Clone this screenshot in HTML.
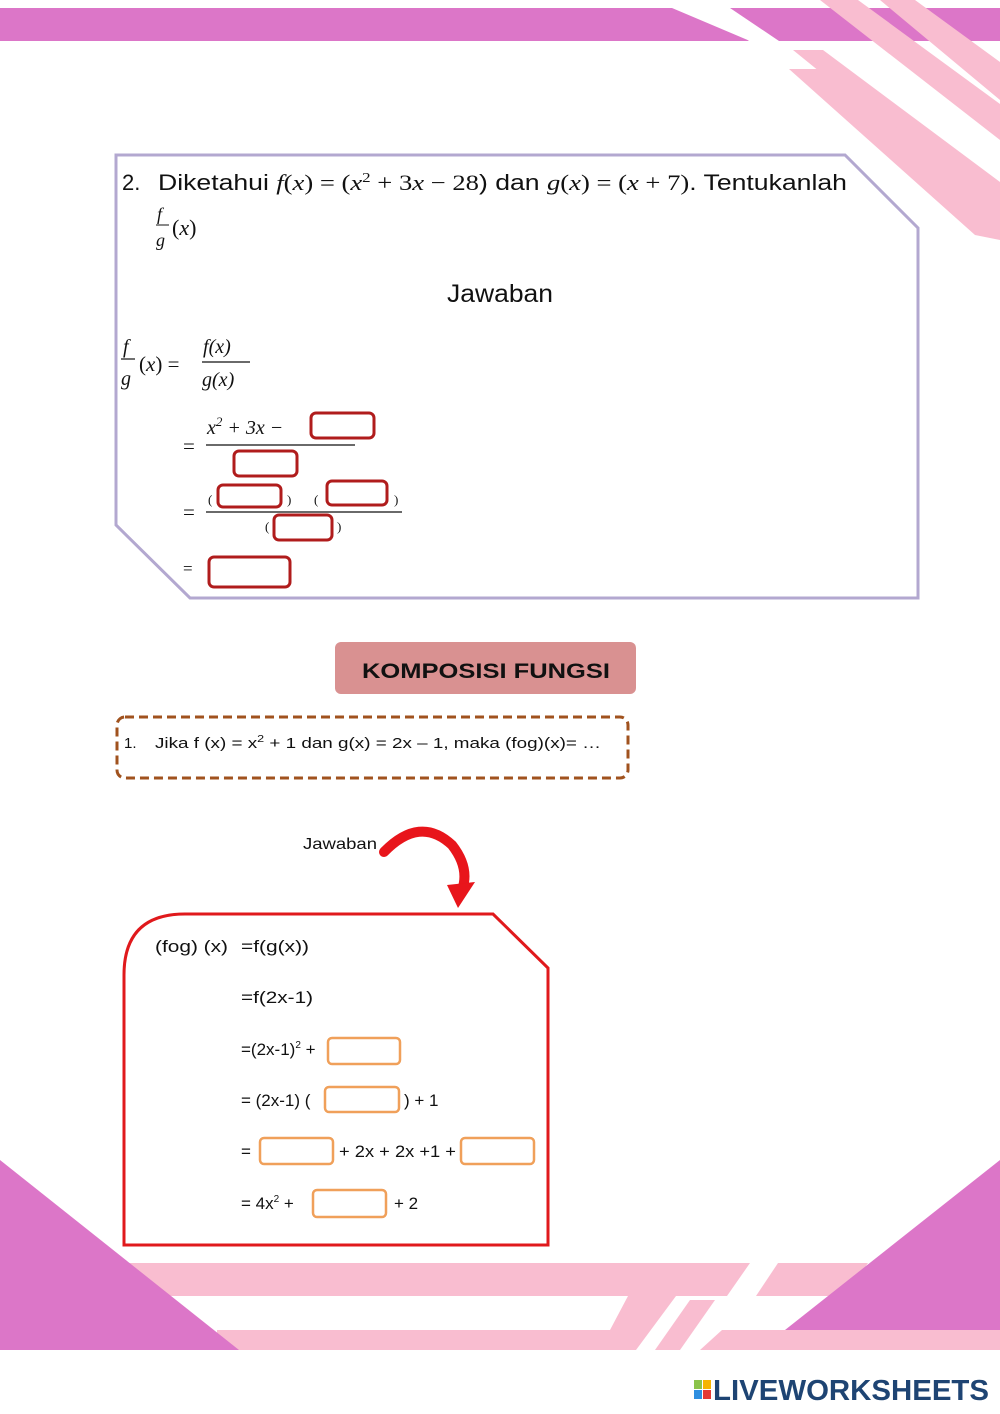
<!DOCTYPE html>
<html><head><meta charset="utf-8"><style>
html,body{margin:0;padding:0;background:#fff;}
svg{display:block;}
text{font-family:"Liberation Sans",sans-serif;fill:#111;}
.m{font-family:"Liberation Serif",serif;font-style:italic;}
.r{font-family:"Liberation Serif",serif;}
</style></head><body>
<svg width="1000" height="1414" viewBox="0 0 1000 1414" xmlns="http://www.w3.org/2000/svg">
<!-- top decoration -->
<polygon points="0,8 672,8 750,41 0,41" fill="#dc76c8"/>
<polygon points="0,8 670,8 700,41 0,41" fill="#dc76c8"/>
<polygon points="698,0 730,0 779,41 749,41" fill="#fff"/>
<polygon points="730,8 1000,8 1000,41 779,41" fill="#dc76c8"/>
<polygon points="820,0 858,0 1000,104 1000,140" fill="#f9bdd0"/>
<polygon points="880,0 915,0 1000,62 1000,100" fill="#f9bdd0"/>
<polygon points="793,50 823,50 1000,182 1000,218" fill="#f9bdd0"/>
<polygon points="789,69 818,69 1000,205 1000,240 975,235" fill="#f9bdd0"/>
<!-- bottom decoration -->
<polygon points="128,1263 750,1263 727,1296 150,1296" fill="#f9bdd0"/>
<polygon points="778,1263 868,1263 845,1296 756,1296" fill="#f9bdd0"/>
<polygon points="217,1330 610,1330 628,1296 676,1296 636,1350 217,1350" fill="#f9bdd0"/>
<polygon points="655,1350 690,1300 715,1300 680,1350" fill="#f9bdd0"/>
<polygon points="700,1350 722,1330 1000,1330 1000,1350" fill="#f9bdd0"/>
<polygon points="0,1160 239,1350 0,1350" fill="#dc76c8"/>
<polygon points="1000,1160 785,1330 1000,1330" fill="#dc76c8"/>
<!-- logo -->
<rect x="694" y="1380" width="8" height="9" fill="#8bc34a"/>
<rect x="703" y="1380" width="8" height="9" fill="#f5b400"/>
<rect x="694" y="1390" width="8" height="9" fill="#2f8fe0"/>
<rect x="703" y="1390" width="8" height="9" fill="#e53935"/>
<text x="713" y="1400" font-size="29" font-weight="bold" style="fill:#1e4473" textLength="276" lengthAdjust="spacingAndGlyphs">LIVEWORKSHEETS</text>

<!-- box 1 -->
<polygon points="116,155 845,155 918,228 918,598 190,598 116,525" fill="none" stroke="#b3a8d0" stroke-width="3"/>
<text x="122" y="190" font-size="22">2.</text>
<text x="158" y="190" font-size="22" textLength="689" lengthAdjust="spacingAndGlyphs">Diketahui <tspan class="m">f</tspan><tspan class="r">(</tspan><tspan class="m">x</tspan><tspan class="r">) = (</tspan><tspan class="m">x</tspan><tspan class="r" font-size="14" dy="-8">2</tspan><tspan class="r" dy="8"> + 3</tspan><tspan class="m">x</tspan><tspan class="r"> − 28</tspan>) dan <tspan class="m">g</tspan><tspan class="r">(</tspan><tspan class="m">x</tspan><tspan class="r">) = (</tspan><tspan class="m">x</tspan><tspan class="r"> + 7)</tspan>. Tentukanlah</text>
<text x="157" y="220" font-size="18" class="m">f</text>
<line x1="156" y1="225" x2="169" y2="225" stroke="#111" stroke-width="1"/>
<text x="156" y="246" font-size="18" class="m">g</text>
<text x="172" y="235" font-size="22" class="r">(<tspan class="m">x</tspan>)</text>
<text x="500" y="302" font-size="25" text-anchor="middle" textLength="106" lengthAdjust="spacingAndGlyphs">Jawaban</text>

<text x="123" y="353" font-size="20" class="m">f</text>
<line x1="121" y1="359" x2="135" y2="359" stroke="#111" stroke-width="1.2"/>
<text x="121" y="385" font-size="20" class="m">g</text>
<text x="139" y="371" font-size="21" class="r">(<tspan class="m">x</tspan>) =</text>
<text x="203" y="353" font-size="20" class="m">f<tspan class="r">(</tspan>x<tspan class="r">)</tspan></text>
<line x1="202" y1="362" x2="250" y2="362" stroke="#111" stroke-width="1.2"/>
<text x="202" y="386" font-size="20" class="m">g<tspan class="r">(</tspan>x<tspan class="r">)</tspan></text>

<text x="183" y="453" font-size="21" class="r">=</text>
<text x="207" y="434" font-size="20" class="m">x<tspan class="r" font-size="13" dy="-8">2</tspan><tspan class="r" dy="8"> + 3</tspan>x<tspan class="r"> −</tspan></text>
<line x1="206" y1="445" x2="355" y2="445" stroke="#111" stroke-width="1.3"/>
<text x="183" y="519" font-size="21" class="r">=</text>
<line x1="206" y1="512" x2="402" y2="512" stroke="#111" stroke-width="1.3"/>
<text x="208" y="504" font-size="13" class="r">(</text>
<text x="287" y="504" font-size="13" class="r">)</text>
<text x="314" y="504" font-size="13" class="r">(</text>
<text x="394" y="504" font-size="13" class="r">)</text>
<text x="265" y="531" font-size="13" class="r">(</text>
<text x="337" y="531" font-size="13" class="r">)</text>
<text x="183" y="574" font-size="17" class="r">=</text>
<g fill="#fff" stroke="#b01c1c" stroke-width="3">
<rect x="311" y="413" width="63" height="25" rx="5"/>
<rect x="234" y="451" width="63" height="25" rx="5"/>
<rect x="218" y="485" width="63" height="22" rx="5"/>
<rect x="327" y="481" width="60" height="24" rx="5"/>
<rect x="274" y="515" width="58" height="25" rx="5"/>
<rect x="209" y="557" width="81" height="30" rx="5"/>
</g>

<!-- heading -->
<rect x="335" y="642" width="301" height="52" rx="6" fill="#d99191"/>
<text x="486" y="678" font-size="21" font-weight="bold" text-anchor="middle" textLength="248" lengthAdjust="spacingAndGlyphs">KOMPOSISI FUNGSI</text>

<rect x="117" y="717" width="511" height="61" rx="8" fill="none" stroke="#a0521e" stroke-width="3" stroke-dasharray="9,5"/>
<text x="124" y="748" font-size="15">1.</text>
<text x="155" y="748" font-size="15" textLength="446" lengthAdjust="spacingAndGlyphs">Jika f (x) = x<tspan font-size="10" dy="-6">2</tspan><tspan dy="6"> + 1 dan g(x) = 2x – 1, maka (fog)(x)= …</tspan></text>

<text x="303" y="849" font-size="16" textLength="74" lengthAdjust="spacingAndGlyphs">Jawaban</text>
<path d="M384,852 Q420,815 452,845 Q470,868 462,890" fill="none" stroke="#e8151b" stroke-width="10" stroke-linecap="round"/>
<polygon points="447,885 475,882 458,908" fill="#e8151b"/>

<path d="M124,1245 L124,975 Q124,914 185,914 L493,914 L548,968 L548,1245 Z" fill="none" stroke="#e0191c" stroke-width="3"/>
<g font-size="17">
<text x="155" y="952" textLength="73" lengthAdjust="spacingAndGlyphs">(fog) (x)</text>
<text x="241" y="952" textLength="68" lengthAdjust="spacingAndGlyphs">=f(g(x))</text>
<text x="241" y="1003" textLength="72" lengthAdjust="spacingAndGlyphs">=f(2x-1)</text>
<text x="241" y="1055">=(2x-1)<tspan font-size="10" dy="-7">2</tspan><tspan dy="7"> +</tspan></text>
<text x="241" y="1106">= (2x-1) (</text>
<text x="404" y="1106">) + 1</text>
<text x="241" y="1157">=</text>
<text x="339" y="1157" textLength="117" lengthAdjust="spacingAndGlyphs">+ 2x + 2x +1 +</text>
<text x="241" y="1209">= 4x<tspan font-size="10" dy="-7">2</tspan><tspan dy="7"> +</tspan></text>
<text x="394" y="1209">+ 2</text>
</g>
<g fill="#fff" stroke="#f0a05a" stroke-width="2.5">
<rect x="328" y="1038" width="72" height="26" rx="4"/>
<rect x="325" y="1087" width="74" height="25" rx="4"/>
<rect x="260" y="1138" width="73" height="26" rx="4"/>
<rect x="461" y="1138" width="73" height="26" rx="4"/>
<rect x="313" y="1190" width="73" height="27" rx="4"/>
</g>
</svg>
</body></html>
